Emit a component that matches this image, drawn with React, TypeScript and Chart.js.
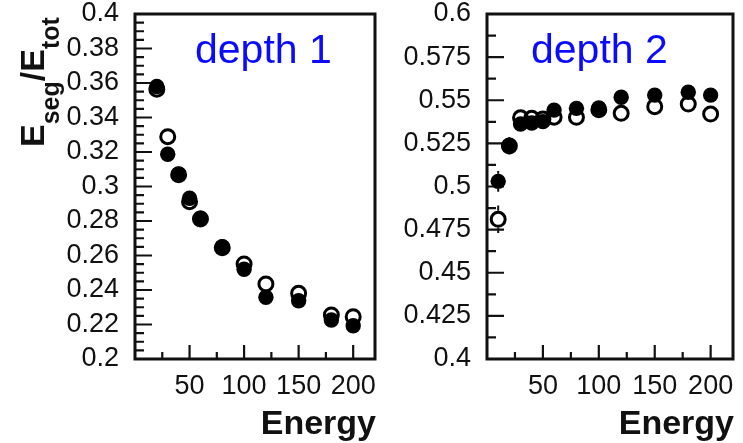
import React, { useEffect, useRef } from 'react';
import { Chart, registerables } from 'chart.js';

Chart.register(...registerables);

// ---- data ----
const energyDepth1 = [20, 30, 40, 50, 60, 80, 100, 120, 150, 180, 200];
const depth1Filled = [0.358, 0.3187, 0.3072, 0.2932, 0.2816, 0.2651, 0.252, 0.2358, 0.2338, 0.2226, 0.2193];
const depth1Open = [0.3564, 0.3289, 0.3068, 0.2912, 0.2812, 0.2645, 0.2551, 0.2435, 0.2381, 0.2255, 0.2245];

const energyDepth2 = [10, 20, 30, 40, 50, 60, 80, 100, 120, 150, 180, 200];
const depth2Filled = [0.503, 0.5237, 0.5362, 0.5368, 0.5376, 0.5443, 0.5453, 0.5455, 0.5517, 0.553, 0.5546, 0.553];
const depth2Open = [0.481, 0.5235, 0.5398, 0.5395, 0.5392, 0.5402, 0.5401, 0.5445, 0.5424, 0.5463, 0.5478, 0.542];
const depth2FilledErr = [0.006, 0.005, 0.003, 0.003, 0.003, 0.003, 0.002, 0.002, 0.002, 0.002, 0.002, 0.002];
const depth2OpenErr = [0.008, 0.004, 0.003, 0.003, 0.003, 0.003, 0.002, 0.002, 0.002, 0.002, 0.002, 0.002];

const xMajorTicks = [50, 100, 150, 200];
const xMinorTicks = [25, 75, 125, 175];
const depth1YTicks = [0.2, 0.22, 0.24, 0.26, 0.28, 0.3, 0.32, 0.34, 0.36, 0.38, 0.4];
const depth2YTicks = [0.4, 0.425, 0.45, 0.475, 0.5, 0.525, 0.55, 0.575, 0.6];

const FONT = '"Liberation Sans", Arial, Helvetica, sans-serif';
const INK = '#111';

const decorPlugin = {
  id: 'decor',
  beforeDatasetsDraw(chart: any, _args: any, o: any) {
    const { ctx, chartArea: a, scales } = chart;
    const xs = scales.x;
    const ys = scales.y;
    ctx.save();
    ctx.strokeStyle = INK;
    ctx.lineWidth = 2.2;
    ctx.beginPath();
    for (const v of xMajorTicks) {
      const px = xs.getPixelForValue(v);
      ctx.moveTo(px, a.bottom);
      ctx.lineTo(px, a.bottom - 14);
    }
    for (const v of xMinorTicks) {
      const px = xs.getPixelForValue(v);
      ctx.moveTo(px, a.bottom);
      ctx.lineTo(px, a.bottom - 7);
    }
    const yMin = ys.min;
    const yMax = ys.max;
    const steps = Math.round((yMax - yMin) / o.minorStep);
    const per = Math.round(o.majorStep / o.minorStep);
    for (let i = 0; i <= steps; i++) {
      const v = yMin + i * o.minorStep;
      const py = ys.getPixelForValue(v);
      const len = i % per === 0 ? 17 : 9;
      ctx.moveTo(a.left, py);
      ctx.lineTo(a.left + len, py);
    }
    ctx.stroke();

    // error bars (only the part outside the marker)
    ctx.lineWidth = 2;
    chart.data.datasets.forEach((ds: any) => {
      if (!ds.errors) return;
      const r = ds.pointRadius + (ds.pointBorderWidth || 0) / 2;
      ctx.beginPath();
      ds.data.forEach((p: any, i: number) => {
        const px = xs.getPixelForValue(p.x);
        const py = ys.getPixelForValue(p.y);
        const top = ys.getPixelForValue(p.y + ds.errors[i]);
        const bot = ys.getPixelForValue(p.y - ds.errors[i]);
        if (py - top > r) {
          ctx.moveTo(px, top);
          ctx.lineTo(px, py - r);
          ctx.moveTo(px, py + r);
          ctx.lineTo(px, bot);
        }
      });
      ctx.stroke();
    });

    // frame
    ctx.lineWidth = 3;
    ctx.strokeRect(a.left, a.top, a.right - a.left, a.bottom - a.top);
    ctx.restore();
  },
  afterDraw(chart: any, _args: any, o: any) {
    const { ctx, chartArea: a } = chart;
    ctx.save();
    // depth label
    ctx.fillStyle = '#0a0aff';
    ctx.font = `41px ${FONT}`;
    ctx.textBaseline = 'alphabetic';
    ctx.textAlign = 'left';
    ctx.fillText(o.label, o.labelX, 63);
    // Energy
    ctx.fillStyle = INK;
    ctx.font = `bold 34px ${FONT}`;
    ctx.textAlign = 'right';
    ctx.fillText('Energy', a.right + 1, 434);
    if (o.yTitle) {
      ctx.translate(44, 147);
      ctx.rotate(-Math.PI / 2);
      ctx.textAlign = 'left';
      let x = 0;
      const big = `bold 34px ${FONT}`;
      const sub = `bold 25px ${FONT}`;
      const parts: [string, string, number][] = [
        ['E', big, 0],
        ['seg', sub, 15],
        ['/', big, 0],
        ['E', big, 0],
        ['tot', sub, 15],
      ];
      for (const [t, f, dy] of parts) {
        ctx.font = f;
        ctx.fillText(t, x, dy);
        x += ctx.measureText(t).width;
      }
    }
    ctx.restore();
  },
};

function fmt(v: number) {
  return String(parseFloat(Number(v).toFixed(4)));
}

function zeroPad(s: any) {
  s.paddingTop = 0;
  s.paddingBottom = 0;
  s.paddingLeft = 0;
  s.paddingRight = 0;
}

function makeConfig(p: {
  energy: number[];
  filled: number[];
  open: number[];
  filledErr?: number[];
  openErr?: number[];
  yMin: number;
  yMax: number;
  yTicks: number[];
  yWidth: number;
  padRight: number;
  label: string;
  labelX: number;
  yTitle: boolean;
  majorStep: number;
  minorStep: number;
}): any {
  return {
    type: 'scatter',
    data: {
      datasets: [
        {
          label: 'filled',
          data: p.energy.map((x, i) => ({ x, y: p.filled[i] })),
          errors: p.filledErr,
          pointRadius: 7.7,
          pointBackgroundColor: '#000',
          pointBorderColor: '#000',
          pointBorderWidth: 0,
          showLine: false,
        },
        {
          label: 'open',
          data: p.energy.map((x, i) => ({ x, y: p.open[i] })),
          errors: p.openErr,
          pointRadius: 7,
          pointBackgroundColor: 'rgba(255,255,255,0)',
          pointBorderColor: '#000',
          pointBorderWidth: 3,
          showLine: false,
        },
      ],
    },
    options: {
      animation: false,
      responsive: false,
      devicePixelRatio: 1,
      layout: { padding: { top: 14, right: p.padRight, left: 0, bottom: 0 } },
      plugins: {
        legend: { display: false },
        tooltip: { enabled: false },
        decor: {
          label: p.label,
          labelX: p.labelX,
          yTitle: p.yTitle,
          majorStep: p.majorStep,
          minorStep: p.minorStep,
        },
      },
      clip: false,
      scales: {
        x: {
          type: 'linear',
          min: 0,
          max: 220,
          afterBuildTicks: (s: any) => {
            s.ticks = xMajorTicks.map((v) => ({ value: v }));
          },
          afterFit: (s: any) => {
            s.height = 443 - 359;
            zeroPad(s);
          },
          grid: { display: false, drawTicks: false },
          border: { display: false },
          ticks: {
            padding: 14,
            autoSkip: false,
            maxRotation: 0,
            color: INK,
            font: { family: FONT, size: 27, lineHeight: 1 },
            callback: (v: number) => String(v),
          },
        },
        y: {
          type: 'linear',
          min: p.yMin,
          max: p.yMax,
          afterBuildTicks: (s: any) => {
            s.ticks = p.yTicks.map((v) => ({ value: v }));
          },
          afterFit: (s: any) => {
            s.width = p.yWidth;
            zeroPad(s);
          },
          grid: { display: false, drawTicks: false },
          border: { display: false },
          ticks: {
            padding: 16,
            autoSkip: false,
            color: INK,
            font: { family: FONT, size: 27, lineHeight: 1 },
            callback: (v: number) => fmt(v),
          },
        },
      },
    },
    plugins: [decorPlugin],
  };
}

function Panel(props: { left: number; width: number; config: any }) {
  const ref = useRef<HTMLCanvasElement>(null);
  useEffect(() => {
    if (!ref.current) return;
    const chart = new Chart(ref.current, props.config);
    return () => chart.destroy();
  }, []);
  return (
    <canvas
      ref={ref}
      width={props.width}
      height={443}
      style={{ position: 'absolute', left: props.left, top: 0, width: props.width, height: 443 }}
    />
  );
}

export default function App() {
  const leftCfg = makeConfig({
    energy: energyDepth1,
    filled: depth1Filled,
    open: depth1Open,
    yMin: 0.2,
    yMax: 0.4,
    yTicks: depth1YTicks,
    yWidth: 135,
    padRight: 4,
    label: 'depth 1',
    labelX: 195,
    yTitle: true,
    majorStep: 0.02,
    minorStep: 0.005,
  });
  const rightCfg = makeConfig({
    energy: energyDepth2,
    filled: depth2Filled,
    open: depth2Open,
    filledErr: depth2FilledErr,
    openErr: depth2OpenErr,
    yMin: 0.4,
    yMax: 0.6,
    yTicks: depth2YTicks,
    yWidth: 102,
    padRight: 9,
    label: 'depth 2',
    labelX: 531 - 385,
    yTitle: false,
    majorStep: 0.025,
    minorStep: 0.0125,
  });
  return (
    <div style={{ position: 'absolute', left: 0, top: 0, width: 743, height: 443, background: '#fff', overflow: 'hidden' }}>
      <Panel left={0} width={385} config={leftCfg} />
      <Panel left={385} width={358} config={rightCfg} />
    </div>
  );
}
